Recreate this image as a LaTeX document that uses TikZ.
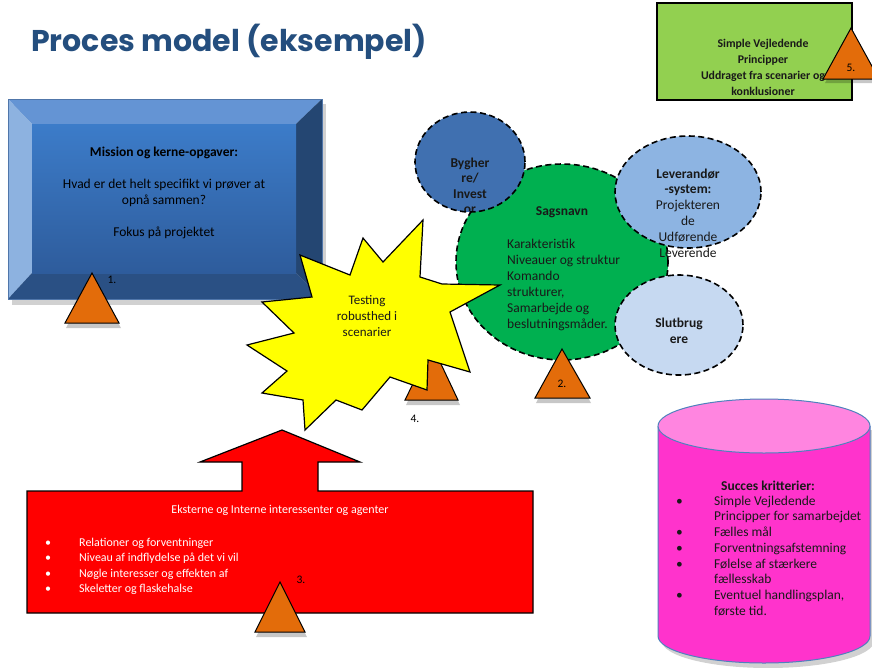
\documentclass[tikz,border=0pt]{standalone}
\usepackage{fontspec}
\setmainfont{Carlito}
\newfontfamily\titlefont{Poppins}
\usetikzlibrary{shapes.geometric}
\definecolor{titleblue}{RGB}{36,78,126}
\definecolor{triorange}{RGB}{227,108,10}
\definecolor{bevtop}{RGB}{100,148,212}
\definecolor{bevleft}{RGB}{141,178,224}
\definecolor{bevright}{RGB}{36,70,114}
\definecolor{bevbot}{RGB}{42,80,132}
\definecolor{facetop}{RGB}{60,124,201}
\definecolor{facebot}{RGB}{46,92,156}
\definecolor{sagsgreen}{RGB}{0,176,80}
\definecolor{bygblue}{RGB}{64,112,176}
\definecolor{levblue}{RGB}{141,180,226}
\definecolor{slutblue}{RGB}{198,217,241}
\definecolor{boxgreen}{RGB}{146,208,80}
\definecolor{cylpink}{RGB}{255,51,204}
\definecolor{cyltoppink}{RGB}{255,133,224}
\definecolor{cylline}{RGB}{79,129,189}
\definecolor{staryellow}{RGB}{255,255,0}
\definecolor{txtdark}{RGB}{25,25,25}
\tikzset{
  bodytext/.style={font=\fontsize{13.5}{16}\selectfont, align=center, inner sep=0pt},
  smalltext/.style={font=\fontsize{12}{16}\selectfont, align=center, inner sep=0pt},
  dashcircle/.style={ellipse, draw=black, line width=1.6pt, dash pattern=on 6pt off 3.5pt, inner sep=0pt},
  tri/.style={fill=triorange, draw=black, line width=1pt},
  trishadow/.style={fill=black, opacity=0.22},
  numlabel/.style={font=\fontsize{11.5}{13}\selectfont, inner sep=0pt},
}
\begin{document}
\begin{tikzpicture}[x=1pt,y=-1pt]
\useasboundingbox (0,0) rectangle (872,667);
\fill[white] (0,0) rectangle (872,667);

% title
\node[font=\titlefont\bfseries\fontsize{30}{34}\selectfont, text=titleblue, anchor=west, inner sep=0pt] (title) at (31,42) {Proces model (eksempel)};

% ---------- green Sagsnavn circle and satellites ----------
\node[dashcircle, fill=sagsgreen, minimum width=212pt, minimum height=196pt] (sags) at (562,262) {};
\node[bodytext, font=\bfseries\fontsize{13.5}{16}\selectfont, text=txtdark] (sagstitle) at (562,212) {Sagsnavn};
\node[bodytext, align=left, anchor=west, text=txtdark] (sagstext) at (507,285) {Karakteristik\\Niveauer og struktur\\Komando\\strukturer,\\Samarbejde og\\beslutningsmåder.};

\node[dashcircle, fill=bygblue, minimum width=110pt, minimum height=100pt] (byg) at (470,162) {};
\begin{scope}
\clip (470,162) ellipse [x radius=54, y radius=49];
\node[bodytext, font=\bfseries\fontsize{13.5}{15.5}\selectfont, text=txtdark] (bygtext) at (470,186) {Bygher\\re/\\Invest\\or};
\end{scope}

\node[dashcircle, fill=levblue, minimum width=146pt, minimum height=112pt] (lev) at (688,192) {};
\node[bodytext, text=txtdark, font=\fontsize{13.5}{15.8}\selectfont] (levtext) at (688,213) {\textbf{Leverandør}\\\textbf{-system:}\\Projekteren\\de\\Udførende\\Leverende};

\node[dashcircle, fill=slutblue, minimum width=128pt, minimum height=100pt] (slut) at (679,325) {};
\node[bodytext, font=\bfseries\fontsize{13.5}{16}\selectfont, text=txtdark] (sluttext) at (679,331) {Slutbrug\\ere};

% triangle 2
\fill[trishadow] (536,403) -- (563,352) -- (591,403) -- cycle;
\draw[tri] (535,398) -- (562,349) -- (590,398) -- cycle;
\node[numlabel] (n2) at (562,384) {2.};

% triangle 4
\fill[trishadow] (406,405) -- (433,350) -- (460,405) -- cycle;
\draw[tri] (405,400) -- (432,345) -- (458,400) -- cycle;
\node[numlabel] (n4) at (415,419) {4.};

% ---------- bevelled blue box ----------
\fill[black, opacity=0.18] (12,104) rectangle (326,305);
\fill[bevtop] (8,99) -- (322,99) -- (296,124) -- (32,124) -- cycle;
\fill[bevleft] (8,99) -- (32,124) -- (32,273) -- (8,299) -- cycle;
\fill[bevright] (322,99) -- (322,299) -- (296,273) -- (296,124) -- cycle;
\fill[bevbot] (8,299) -- (32,273) -- (296,273) -- (322,299) -- cycle;
\shade[top color=facetop, bottom color=facebot] (32,124) rectangle (296,273);
\draw[bevtop!80!black, line width=0.6pt] (8,99) rectangle (322,299);
\node[bodytext, text=black] (mission) at (164,193) {\textbf{Mission og kerne-opgaver:}\\[16pt]Hvad er det helt specifikt vi prøver at\\opnå sammen?\\[16pt]Fokus på projektet};

% triangle 1
\fill[trishadow] (66,328) -- (93,277) -- (121,328) -- cycle;
\draw[tri] (65,323) -- (92,273) -- (119,323) -- cycle;
\node[numlabel] (n1) at (112,280) {1.};

% ---------- starburst ----------
\filldraw[fill=staryellow, draw=black, line width=1.2pt, line join=miter]
  (363,238) -- (383,262) -- (423,220) -- (420,277) -- (442,284) -- (500,285)
  -- (450,312) -- (470,372) -- (428,360) -- (427,390) -- (390,377) -- (362,410)
  -- (336,400) -- (305,430) -- (303,400) -- (262,393) -- (287,371) -- (247,345)
  -- (294,333) -- (262,302) -- (312,297) -- (300,255) -- (350,275) -- cycle;
\node[bodytext, font=\fontsize{13}{16}\selectfont, text=txtdark] (star) at (367,316) {Testing\\robusthed i\\scenarier};

% ---------- red arrow box ----------
\filldraw[fill=red, draw=black, line width=1.2pt]
  (27,491) -- (242,491) -- (242,462) -- (200,462) -- (282,430) -- (360,462)
  -- (318,462) -- (318,491) -- (533,491) -- (533,613) -- (27,613) -- cycle;
\node[smalltext, text=white] (redtitle) at (280,510) {Eksterne og Interne interessenter og agenter};
\node[smalltext, text=white, anchor=north west, align=left] (redlist) at (45,535)
  {\begin{tabular}{@{}p{34pt}@{}l@{}}
   •&Relationer og forventninger\\[-0.5pt]
   •&Niveau af indflydelse på det vi vil\\[-0.5pt]
   •&Nøgle interesser og effekten af\\[-0.5pt]
   •&Skeletter og flaskehalse
   \end{tabular}};

% triangle 3
\fill[trishadow] (256,637) -- (281,587) -- (307,637) -- cycle;
\draw[tri] (255,632) -- (280,582) -- (305,632) -- cycle;
\node[numlabel] (n3) at (301,580) {3.};

% ---------- pink cylinder ----------
\fill[black, opacity=0.18] (662,430) -- (662,641) arc[start angle=180, end angle=0, x radius=106, y radius=27] -- (874,430) -- cycle;
\filldraw[fill=cylpink, draw=cylline, line width=1pt] (658,426) -- (658,636) arc[start angle=180, end angle=0, x radius=106, y radius=27] -- (870,426);
\node[ellipse, fill=cyltoppink, draw=cylline, line width=1pt, minimum width=212pt, minimum height=54pt, inner sep=0pt] (cyltop) at (764,426) {};
\node[bodytext, font=\bfseries\fontsize{13.5}{16}\selectfont, text=txtdark] (succtitle) at (768,486) {Succes kritterier:};
\node[bodytext, font=\fontsize{13.5}{15.7}\selectfont, text=txtdark, anchor=north west, align=left] (succlist) at (676,494)
  {\begin{tabular}{@{}p{38pt}@{}l@{}}
   •&Simple Vejledende\\
   &Principper for samarbejdet\\
   •&Fælles mål\\
   •&Forventningsafstemning\\
   •&Følelse af stærkere\\
   &fællesskab\\
   •&Eventuel handlingsplan,\\
   &første tid.
   \end{tabular}};

% ---------- green box ----------
\filldraw[fill=boxgreen, draw=black, line width=1.2pt] (657,3) rectangle (852,100);
\node[smalltext, font=\bfseries\fontsize{11.8}{16}\selectfont, text=txtdark] (principles) at (763,67) {Simple Vejledende\\Principper\\Uddraget fra scenarier og\\konklusioner};

% triangle 5
\fill[trishadow] (825,83) -- (852,32) -- (878,83) -- cycle;
\draw[tri] (823,79) -- (851,28) -- (879,79) -- cycle;
\node[numlabel] (n5) at (851,68) {5.};
\end{tikzpicture}
\end{document}
